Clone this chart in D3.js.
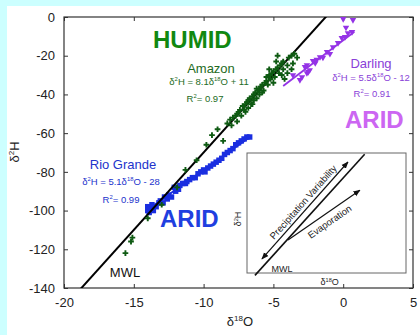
<!DOCTYPE html>
<html>
<head>
<meta charset="utf-8">
<script src="https://cdn.jsdelivr.net/npm/d3@7"></script>
<style>
  body { margin: 0; background: #ccffff; }
  svg { display: block; font-family: "Liberation Sans", Arial, sans-serif; }
</style>
</head>
<body>
<div id="chart"></div>
<script>
// axis ticks
const xTicks = [-20, -15, -10, -5, 0, 5];
const yTicks = [0, -20, -40, -60, -80, -100, -120, -140];

// Amazon (HUMID) samples: [d18O, d2H]
const amazon = [
  [-15.6, -122], [-15.1, -114], [-15.2, -116], [-14.0, -104], [-13.0, -97],
  [-11.9, -88], [-11.3, -79], [-10.5, -74], [-9.8, -66], [-9.4, -61],
  [-9.0, -58], [-8.6, -64], [-8.3, -55], [-8.1, -53], [-8.0, -56],
  [-7.9, -52], [-7.7, -51], [-7.6, -54], [-7.5, -49], [-7.4, -48],
  [-7.3, -51], [-7.2, -46], [-7.1, -48], [-7.0, -45], [-6.9, -44],
  [-6.8, -43], [-6.8, -47], [-6.7, -42], [-6.6, -45], [-6.5, -41],
  [-6.4, -40], [-6.4, -43], [-6.3, -39], [-6.2, -42], [-6.1, -38],
  [-6.0, -37], [-6.0, -40], [-5.9, -36], [-5.8, -35], [-5.7, -38],
  [-5.6, -34], [-5.5, -33], [-5.5, -31], [-5.4, -35], [-5.3, -30],
  [-5.2, -32], [-5.1, -29], [-5.0, -28], [-4.9, -31], [-4.8, -27],
  [-4.7, -26], [-4.6, -29], [-4.5, -25], [-4.4, -24], [-4.3, -23],
  [-4.3, -27], [-4.2, -32], [-4.0, -29], [-4.0, -25], [-3.9, -21],
  [-3.7, -27], [-3.7, -20], [-4.7, -20], [-3.5, -19], [-3.3, -21],
  [-3.6, -24], [-4.4, -30], [-5.0, -34], [-5.8, -39], [-6.5, -45],
  [-7.0, -49], [-5.3, -27], [-4.8, -23], [-6.2, -37], [-7.6, -50]
];

// Rio Grande (ARID) samples
const rioGrande = [
  [-14.0, -98], [-14.0, -100], [-13.9, -101], [-13.8, -99], [-13.7, -97],
  [-13.6, -100], [-13.4, -98], [-13.2, -96], [-13.1, -95], [-12.9, -96],
  [-12.8, -93], [-12.6, -94], [-12.5, -92], [-12.3, -93], [-12.1, -88],
  [-12.0, -90], [-11.8, -89], [-11.7, -87], [-11.5, -86], [-11.3, -86],
  [-11.2, -85], [-11.0, -84], [-10.8, -83], [-10.6, -83], [-10.4, -81],
  [-10.2, -80], [-10.0, -79], [-9.9, -80], [-9.7, -78], [-9.5, -77],
  [-9.3, -76], [-9.1, -75], [-8.9, -74], [-8.7, -73], [-8.5, -71],
  [-8.3, -70], [-8.1, -69], [-7.9, -68], [-7.7, -66], [-7.5, -65],
  [-7.3, -64], [-7.1, -63], [-6.9, -62], [-6.7, -62]
];

// Darling (ARID) samples
const darling = [
  [-3.6, -30], [-3.1, -32.5], [-2.95, -31], [-2.74, -25.8], [-2.6, -29],
  [-2.5, -28.4], [-2.4, -27.4], [-2.6, -24.8], [-2.16, -22.7], [-2.0, -23.8],
  [-1.9, -22], [-1.66, -20.7], [-1.45, -21], [-1.16, -18], [-0.95, -19],
  [-0.73, -15.5], [-0.37, -13.4], [-0.1, -10.8], [0.13, -10.3], [0.34, -8.3],
  [0.63, -7.7], [0.0, -1], [0.7, -1.5], [0.2, -5.5]
];

// regression lines: [slope, intercept, xmin, xmax]
const mwlFit = [8, 10, -19, 0];
const rioFit = [5.1, -28, -14.0, -6.7];
const darlingFit = [5.5, -12, -4.3, 0.8];

// inset schematic (abstract 0..10 units)
const insetMWL = [[0.5, -0.2], [7.4, 9.9]];
const insetPrecip = [[0.94, 1.17], [6.35, 9.25]];
const insetEvap = [[2.58, 2.75], [7.1, 6.9]];

const W = 420, H = 335;
const x = d3.scaleLinear().domain([-20, 5]).range([64, 413]);
const y = d3.scaleLinear().domain([-140, 0]).range([288, 17]);

const svg = d3.select("#chart").append("svg").attr("width", W).attr("height", H);

svg.append("rect").attr("x", 7).attr("y", 6).attr("width", W - 7).attr("height", H - 6).attr("fill", "#fff");

svg.append("clipPath").attr("id", "plot")
  .append("rect").attr("x", 64).attr("y", 17).attr("width", 349).attr("height", 271);

// axes with inside ticks
const tickStyle = g => {
  g.selectAll(".domain").remove();
  g.selectAll("line").attr("stroke", "#333");
  g.selectAll("text").attr("font-size", 13).attr("fill", "#222").attr("font-family", "Liberation Sans, Arial, sans-serif");
};
svg.append("g").attr("transform", "translate(0,288)")
  .call(d3.axisBottom(x).tickValues(xTicks).tickSize(-4).tickPadding(10).tickFormat(d => String(d)))
  .call(tickStyle);
svg.append("g").attr("transform", "translate(0,17)")
  .call(d3.axisTop(x).tickValues(xTicks).tickSize(-4).tickFormat(""))
  .call(tickStyle);
svg.append("g").attr("transform", "translate(64,0)")
  .call(d3.axisLeft(y).tickValues(yTicks).tickSize(-4).tickPadding(9).tickFormat(d => String(d)))
  .call(tickStyle);
svg.append("g").attr("transform", "translate(413,0)")
  .call(d3.axisRight(y).tickValues(yTicks).tickSize(-4).tickFormat(""))
  .call(tickStyle);

svg.append("rect").attr("x", 64).attr("y", 17).attr("width", 349).attr("height", 271)
  .attr("fill", "none").attr("stroke", "#333").attr("stroke-width", 1.2);

const plot = svg.append("g").attr("clip-path", "url(#plot)");

function fitLine(f, color, w) {
  const [m, b, x0, x1] = f;
  plot.append("line")
    .attr("x1", x(x0)).attr("y1", y(m * x0 + b))
    .attr("x2", x(x1)).attr("y2", y(m * x1 + b))
    .attr("stroke", color).attr("stroke-width", w);
}

function points(data, type, size, color) {
  plot.selectAll(null).data(data).enter().append("path")
    .attr("d", d3.symbol().type(type).size(size))
    .attr("transform", d => "translate(" + x(d[0]) + "," + y(d[1]) + ")" + (type === d3.symbolTriangle ? " rotate(180)" : ""))
    .attr("fill", color);
}

points(rioGrande, d3.symbolSquare, 30, "#1a2ee0");
fitLine(rioFit, "#1a2ee0", 1.8);
fitLine(mwlFit, "#000", 2);
points(amazon, d3.symbolCross, 18, "#0e5a12");
points(darling, d3.symbolTriangle, 18, "#9433e6");
fitLine(darlingFit, "#9433e6", 1.8);

// text with superscripts: parts = [[text, isSup], ...]
function richText(px, py, parts, size, color, opts = {}) {
  const t = svg.append("text").attr("x", px).attr("y", py)
    .attr("text-anchor", opts.anchor || "middle")
    .attr("font-size", size).attr("fill", color)
    .attr("font-weight", opts.weight || "normal");
  if (opts.transform) t.attr("transform", opts.transform);
  let up = false;
  parts.forEach(([s, sup]) => {
    const ts = t.append("tspan").text(s);
    if (sup) { ts.attr("font-size", size * 0.62).attr("dy", up ? 0 : -size * 0.38); up = true; }
    else { if (up) ts.attr("dy", size * 0.38); up = false; }
  });
  return t;
}

// labels
richText(153, 48, [["HUMID"]], 24, "#118811", { anchor: "start", weight: "bold" });
richText(211, 73, [["Amazon"]], 13, "#236b23");
richText(209, 85, [["δ"], ["2", 1], ["H = 8.1δ"], ["18", 1], ["O + 11"]], 9.5, "#236b23");
richText(205, 102, [["R"], ["2", 1], ["= 0.97"]], 9.5, "#236b23");

richText(371, 68, [["Darling"]], 13, "#8a3fd8");
richText(371, 81, [["δ"], ["2", 1], ["H = 5.5δ"], ["18", 1], ["O - 12"]], 9.5, "#8a3fd8");
richText(372, 97, [["R"], ["2", 1], ["= 0.91"]], 9.5, "#8a3fd8");
richText(345, 128, [["ARID"]], 24, "#cc66f2", { anchor: "start", weight: "bold" });

richText(123, 169, [["Rio Grande"]], 13, "#2233cc");
richText(121, 185, [["δ"], ["2", 1], ["H = 5.1δ"], ["18", 1], ["O - 28"]], 9.5, "#2233cc");
richText(121, 203, [["R"], ["2", 1], ["= 0.99"]], 9.5, "#2233cc");
richText(160, 227, [["ARID"]], 24, "#1f3fe0", { anchor: "start", weight: "bold" });

richText(125, 277, [["MWL"]], 13, "#111");

richText(0, 0, [["δ"], ["2", 1], ["H"]], 13, "#222", { transform: "translate(19,152) rotate(-90)" });
richText(240, 326, [["δ"], ["18", 1], ["O"]], 13, "#222");

// inset
const ix = d3.scaleLinear().domain([0, 10]).range([247, 406]);
const iy = d3.scaleLinear().domain([0, 10]).range([273, 153]);
const inset = svg.append("g");
inset.append("rect").attr("x", ix(0)).attr("y", iy(10)).attr("width", ix(10) - ix(0)).attr("height", iy(0) - iy(10))
  .attr("fill", "#fff").attr("stroke", "#666").attr("stroke-width", 1);

const defs = svg.append("defs");
defs.append("marker").attr("id", "arr").attr("viewBox", "0 0 10 10").attr("refX", 9).attr("refY", 5)
  .attr("markerWidth", 6).attr("markerHeight", 6).attr("orient", "auto-start-reverse")
  .append("path").attr("d", "M0,1 L10,5 L0,9 Z").attr("fill", "#111");

const iline = d3.line().x(d => ix(d[0])).y(d => iy(d[1]));
inset.append("path").attr("d", iline(insetMWL)).attr("stroke", "#111").attr("stroke-width", 1.6).attr("fill", "none");
inset.append("path").attr("d", iline(insetPrecip)).attr("stroke", "#111").attr("stroke-width", 1.2).attr("fill", "none")
  .attr("marker-start", "url(#arr)").attr("marker-end", "url(#arr)");
inset.append("path").attr("d", iline(insetEvap)).attr("stroke", "#111").attr("stroke-width", 1.2).attr("fill", "none")
  .attr("marker-end", "url(#arr)");

function alongText(seg, t, dy, label) {
  const [a, b] = seg;
  const px = ix(a[0] + (b[0] - a[0]) * t), py = iy(a[1] + (b[1] - a[1]) * t);
  const ang = Math.atan2(iy(b[1]) - iy(a[1]), ix(b[0]) - ix(a[0])) * 180 / Math.PI;
  svg.append("text").attr("transform", "translate(" + px + "," + py + ") rotate(" + ang + ")")
    .attr("dy", dy).attr("text-anchor", "middle").attr("font-size", 9.5).attr("fill", "#222").text(label);
}
alongText(insetPrecip, 0.54, -3.5, "Precipitation Variability");
alongText(insetEvap, 0.51, 12, "Evaporation");

richText(ix(2.2), iy(0.1), [["MWL"]], 9, "#222");
richText(0, 0, [["δ"], ["2", 1], ["H"]], 9, "#222", { transform: "translate(" + (ix(0) - 6) + "," + iy(4.5) + ") rotate(-90)" });
richText(ix(5.2), 285, [["δ"], ["18", 1], ["O"]], 9, "#222");
</script>
</body>
</html>
